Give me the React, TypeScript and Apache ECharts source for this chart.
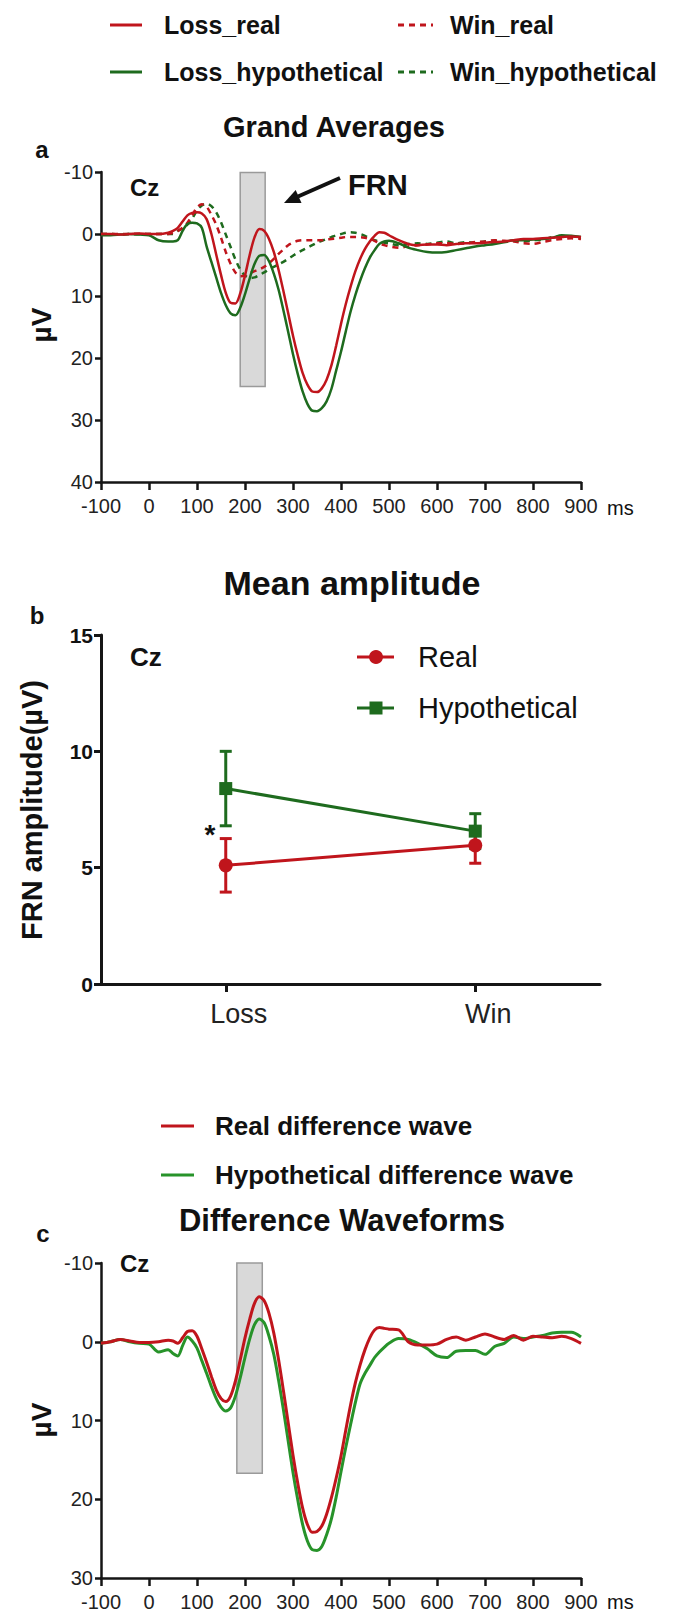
import React, { useEffect, useRef } from "react";
import * as echarts from "echarts";

// ---------- DATA ----------
// sample times (ms): 20 ms steps outside the main ERP window, 10 ms steps inside it
const timeMs = [
  -100, -80, -60, -40, -20, 0, 20, 40,
  50, 60, 70, 80, 90, 100, 110, 120, 130, 140,
  150, 160, 170, 180, 190, 200, 210, 220, 230, 240,
  250, 260, 270, 280, 290, 300, 310, 320, 330, 340,
  350, 360, 370, 380, 390, 400, 410, 420, 430, 440,
  450, 460, 470, 480, 490, 500,
  520, 540, 560, 580, 600, 620, 640, 660, 680, 700,
  720, 740, 760, 780, 800, 820, 840, 860, 880, 900,
];
const xRangeMs = [-100, 900];
const ampRangeA = [-10, 40];
const ampRangeC = [-10, 30];

const lossReal = [
  0, 0, 0.1, 0, -0.1, 0, 0, -0.2,
  -0.5, -1.0, -2.0, -3.0, -3.4, -3.5, -3.3, -2.4, 0.0, 3.3,
  6.6, 9.5, 11.1, 11.2, 9.6, 6.7, 3.3, 0.5, -0.8, -0.5,
  0.8, 2.9, 5.8, 9.2, 12.8, 16.4, 19.6, 22.4, 24.3, 25.4,
  25.5, 24.9, 23.5, 21.2, 18.0, 14.5, 11.3, 8.5, 6.0, 4.0,
  2.4, 1.2, 0.3, -0.3, -0.2, 0.2,
  1.0, 1.6, 1.8, 1.7, 1.7, 1.8, 1.6, 1.5, 1.5, 1.4,
  1.3, 1.2, 1.0, 0.8, 0.8, 0.7, 0.6, 0.5, 0.4, 0.5,
];
const lossHyp = [
  0.2, 0.2, 0.1, 0, 0.1, 0.2, 1.0, 1.2,
  1.2, 1.0, -0.5, -1.6, -1.8, -1.7, -1.0, 2.0, 4.5, 7.0,
  9.5, 11.5, 12.8, 13.1, 11.9, 9.7, 7.1, 4.8, 3.5, 3.4,
  4.4, 6.4, 9.0, 12.3, 15.8, 19.4, 22.6, 25.4, 27.4, 28.5,
  28.6, 28.1, 27.0, 25.0, 22.0, 19.0, 15.7, 12.5, 9.8, 7.5,
  5.5, 3.8, 2.6, 1.6, 1.2, 1.1,
  1.5, 2.2, 2.6, 2.9, 3.0, 2.9, 2.6, 2.3, 2.0, 1.8,
  1.6, 1.3, 1.0, 1.0, 0.9, 0.8, 0.6, 0.2, 0.3, 0.5,
];
const winReal = [
  0, 0, 0, 0, 0, 0, 0, 0,
  -0.2, -0.5, -1.0, -1.8, -3.0, -4.3, -4.8, -4.4, -3.1, -1.5,
  0.6, 2.9, 4.8, 6.2, 6.8, 6.7, 6.3, 6.0, 5.7, 5.3,
  4.7, 4.0, 3.2, 2.5, 1.8, 1.4, 1.1, 1.0, 1.0, 1.0,
  1.0, 1.0, 0.9, 0.8, 0.7, 0.6, 0.5, 0.5, 0.5, 0.5,
  0.6, 0.8, 1.1, 1.5, 1.8, 2.0,
  2.2, 2.0, 1.8, 1.7, 1.5, 1.5, 1.6, 1.5, 1.3, 1.2,
  1.0, 1.1, 1.2, 1.5, 1.6, 1.3, 1.0, 0.8, 0.7, 0.8,
];
const winHyp = [
  0, 0, 0.1, 0, 0, 0, 0, 0,
  0, -0.5, -0.9, -1.5, -2.5, -3.8, -4.6, -4.9, -4.5, -3.5,
  -1.9, 0.1, 2.1, 4.1, 5.7, 6.7, 7.1, 7.0, 6.6, 6.2,
  5.7, 5.3, 4.9, 4.5, 4.0, 3.5, 3.0, 2.6, 2.2, 1.8,
  1.4, 1.1, 0.8, 0.5, 0.2, 0.0, -0.2, -0.3, -0.2, 0.0,
  0.3, 0.7, 1.0, 1.2, 1.4, 1.5,
  1.8, 1.6, 1.5, 1.6, 1.4, 1.2, 1.5, 1.3, 1.4, 1.2,
  1.1, 1.3, 1.0, 1.2, 1.0, 0.9, 0.5, 0.4, 0.5, 0.6,
];
const diffReal = [
  0.2, 0.0, -0.3, -0.1, 0.1, 0.1, 0.0, -0.2,
  -0.1, 0.2, -0.5, -1.3, -1.4, -0.7, 0.9, 2.6, 4.4, 6.1,
  7.2, 7.6, 6.9, 5.0, 2.3, -0.5, -2.9, -4.9, -5.7, -5.2,
  -3.6, -1.1, 2.3, 6.2, 10.3, 14.4, 18.0, 21.1, 23.2, 24.2,
  24.1, 23.4, 21.9, 19.8, 17.3, 14.5, 11.2, 8.0, 5.2, 2.9,
  1.0, -0.5, -1.5, -1.8, -1.7, -1.6,
  -1.5, 0.0, 0.4, 0.4, 0.3, -0.3, -0.6, -0.2, -0.6, -1.0,
  -0.6, -0.3, -0.8, -0.2, -0.7, -0.6, -0.5, -0.7, -0.4, 0.2,
];
const diffHyp = [
  0.2, 0.0, -0.3, 0.0, 0.2, 0.3, 1.3, 1.0,
  1.5, 1.8, 0.5, -0.6, -0.1, 0.8, 2.4, 4.0, 5.7, 7.2,
  8.3, 8.8, 8.4, 6.9, 4.6, 2.0, -0.4, -2.2, -2.9, -2.4,
  -0.7, 1.6, 4.9, 8.6, 12.6, 16.6, 20.1, 23.2, 25.3, 26.4,
  26.5, 26.0, 24.5, 22.5, 19.7, 16.5, 13.4, 10.5, 7.7, 5.3,
  4.0, 3.0, 2.0, 1.3, 0.7, 0.2,
  -0.4, -0.3, 0.2, 0.9, 1.8, 2.0, 1.2, 1.1, 1.1, 1.6,
  0.6, 0.2, -0.6, -0.4, -0.6, -0.8, -1.1, -1.2, -1.2, -0.6,
];

const frnWindowA = [190, 242];
const frnRectAmpA = [-9.9, 24.6];
const frnWindowC = [183, 236];
const frnRectAmpC = [-10.5, 16.7];

const conditions = ["Loss", "Win"];
const realMean = [5.1, 5.96];
const realSem = [1.15, 0.77];
const hypMean = [8.4, 6.57];
const hypSem = [1.6, 0.75];
const ampRangeB = [0, 15];

const namesA = ["Loss_real", "Loss_hypothetical", "Win_real", "Win_hypothetical"];
const namesB = ["Real", "Hypothetical"];
const namesC = ["Real difference wave", "Hypothetical difference wave"];

// ---------- STYLE ----------
const FONT = "'Liberation Sans', Arial, Helvetica, sans-serif";
const RED = "#C0151C";
const GREEN = "#1E6B1E";
const GREEN_C = "#27932A";
const AX = "#151515";

function pairs(ys: number[]) {
  return timeMs.map((t, i) => [t, ys[i]]);
}

function txt(text: string, x: number, y: number, size: number, bold: boolean, align = "left", extra: any = {}) {
  return {
    type: "text",
    x,
    y,
    ...extra,
    style: {
      text,
      font: `${bold ? "bold " : ""}${size}px ${FONT}`,
      fill: "#111",
      textAlign: align,
      textVerticalAlign: "middle",
    },
  };
}
function hline(x1: number, x2: number, y: number, color: string, dash?: number[]) {
  return {
    type: "line",
    shape: { x1, y1: y, x2, y2: y },
    style: { stroke: color, lineWidth: 3, lineDash: dash || null },
  };
}

function waveXAxis(grid: number) {
  return {
    type: "value",
    gridIndex: grid,
    min: xRangeMs[0],
    max: xRangeMs[1],
    interval: 100,
    axisLine: { show: true, onZero: false, lineStyle: { color: AX, width: 2.5 } },
    axisTick: { show: true, length: 8, lineStyle: { color: AX, width: 2.5 } },
    axisLabel: { fontSize: 20, color: "#222", margin: 14, fontFamily: FONT, showMinLabel: true, showMaxLabel: true },
    splitLine: { show: false },
  };
}
function waveYAxis(grid: number, range: number[]) {
  return {
    type: "value",
    gridIndex: grid,
    min: range[0],
    max: range[1],
    interval: 10,
    inverse: true,
    axisLine: { show: true, onZero: false, lineStyle: { color: AX, width: 2.5 } },
    axisTick: { show: true, length: 6, lineStyle: { color: AX, width: 2.5 } },
    axisLabel: { fontSize: 20, color: "#222", margin: 8, fontFamily: FONT },
    splitLine: { show: false },
  };
}
function wave(name: string, ys: number[], color: string, grid: number, dashed = false, width = 2.5) {
  return {
    name,
    type: "line",
    xAxisIndex: grid,
    yAxisIndex: grid,
    data: pairs(ys),
    smooth: 0.3,
    showSymbol: false,
    z: 3,
    lineStyle: { color, width, type: dashed ? [6, 5] : "solid" },
  };
}
function rectSeries(grid: number, win: number[], amp: number[]) {
  return {
    type: "line",
    xAxisIndex: grid,
    yAxisIndex: grid,
    data: [],
    z: 1,
    markArea: {
      silent: true,
      itemStyle: { color: "#D9D9D9", borderColor: "#9A9A9A", borderWidth: 1.5 },
      data: [[{ coord: [win[0], amp[0]] }, { coord: [win[1], amp[1]] }]],
    },
  };
}
function errSeries(mean: number[], sem: number[], color: string) {
  return {
    type: "custom",
    xAxisIndex: 1,
    yAxisIndex: 1,
    z: 3,
    encode: { x: 0, y: [1, 2] },
    data: mean.map((m, i) => [i, m - sem[i], m + sem[i]]),
    renderItem: (params: any, api: any) => {
      const i = api.value(0);
      const lo = api.coord([i, api.value(1)]);
      const hi = api.coord([i, api.value(2)]);
      const h = 6;
      const st = { stroke: color, lineWidth: 3 };
      return {
        type: "group",
        children: [
          { type: "line", shape: { x1: lo[0], y1: lo[1], x2: hi[0], y2: hi[1] }, style: st },
          { type: "line", shape: { x1: hi[0] - h, y1: hi[1], x2: hi[0] + h, y2: hi[1] }, style: st },
          { type: "line", shape: { x1: lo[0] - h, y1: lo[1], x2: lo[0] + h, y2: lo[1] }, style: st },
        ],
      };
    },
  };
}

export default function App() {
  const ref = useRef<HTMLDivElement>(null);
  useEffect(() => {
    document.body.style.margin = "0";
    if (!ref.current) return;
    const chart = echarts.init(ref.current, undefined, { renderer: "svg" });

    const graphic: any[] = [
      // panel a legend
      hline(110, 142, 25, RED),
      txt(namesA[0], 164, 25, 25, true),
      hline(110, 142, 72, GREEN),
      txt(namesA[1], 164, 72, 25, true),
      hline(398, 433, 25, RED, [6, 5]),
      txt(namesA[2], 450, 25, 25, true),
      hline(398, 433, 72, GREEN, [6, 5]),
      txt(namesA[3], 450, 72, 25, true),
      txt("Grand Averages", 334, 127, 29, true, "center"),
      txt("a", 42, 149, 24, true, "center"),
      txt("Cz", 130, 187, 24, true),
      txt("FRN", 348, 185, 29, true),
      { type: "line", shape: { x1: 340, y1: 178, x2: 298, y2: 196.5 }, style: { stroke: "#111", lineWidth: 4 } },
      { type: "polygon", shape: { points: [[284, 203], [301.5, 203], [295.7, 190]] }, style: { fill: "#111" } },
      txt("µV", 41, 325, 28, true, "center", { rotation: Math.PI / 2 }),
      txt("ms", 607, 508, 20, false),
      // panel b
      txt("Mean amplitude", 352, 583, 34, true, "center"),
      txt("b", 37, 615, 24, true, "center"),
      txt("Cz", 130, 657, 26, true),
      txt("FRN amplitude(µV)", 32, 810, 29, true, "center", { rotation: Math.PI / 2 }),
      hline(357, 394, 657, RED),
      { type: "circle", shape: { cx: 376, cy: 657, r: 7 }, style: { fill: RED } },
      txt(namesB[0], 418, 657, 29, false),
      hline(357, 394, 708, GREEN),
      { type: "rect", shape: { x: 369.5, y: 701.5, width: 13, height: 13 }, style: { fill: GREEN } },
      txt(namesB[1], 418, 708, 29, false),
      txt("*", 210, 834, 28, true, "center"),
      // panel c
      hline(161, 194, 1126, RED),
      txt(namesC[0], 215, 1126, 26, true),
      hline(161, 194, 1175, GREEN_C),
      txt(namesC[1], 215, 1175, 26, true),
      txt("Difference Waveforms", 342, 1220, 31, true, "center"),
      txt("c", 43, 1233, 24, true, "center"),
      txt("Cz", 120, 1263, 24, true),
      txt("µV", 41, 1420, 28, true, "center", { rotation: Math.PI / 2 }),
      txt("ms", 607, 1602, 20, false),
    ];

    chart.setOption({
      animation: false,
      backgroundColor: "#ffffff",
      textStyle: { fontFamily: FONT },
      grid: [
        { left: 101, top: 172, width: 480, height: 310 },
        { left: 101, top: 635, width: 499, height: 349 },
        { left: 101, top: 1263, width: 480, height: 315 },
      ],
      xAxis: [
        waveXAxis(0),
        {
          type: "category",
          gridIndex: 1,
          data: conditions,
          boundaryGap: true,
          axisLine: { show: true, lineStyle: { color: AX, width: 3 } },
          axisTick: { show: true, alignWithLabel: true, length: 8, lineStyle: { color: AX, width: 3 } },
          axisLabel: { fontSize: 27, color: "#222", margin: 16, fontFamily: FONT, padding: [0, 0, 0, 26] },
          splitLine: { show: false },
        },
        waveXAxis(2),
      ],
      yAxis: [
        waveYAxis(0, ampRangeA),
        {
          type: "value",
          gridIndex: 1,
          min: ampRangeB[0],
          max: ampRangeB[1],
          interval: 5,
          axisLine: { show: true, lineStyle: { color: AX, width: 3 } },
          axisTick: { show: true, length: 7, lineStyle: { color: AX, width: 3 } },
          axisLabel: { fontSize: 21, fontWeight: "bold", color: "#111", margin: 8, fontFamily: FONT },
          splitLine: { show: false },
        },
        waveYAxis(2, ampRangeC),
      ],
      graphic,
      series: [
        rectSeries(0, frnWindowA, frnRectAmpA),
        wave(namesA[3], winHyp, GREEN, 0, true),
        wave(namesA[2], winReal, RED, 0, true),
        wave(namesA[1], lossHyp, GREEN, 0),
        wave(namesA[0], lossReal, RED, 0),
        errSeries(hypMean, hypSem, GREEN),
        {
          name: namesB[1],
          type: "line",
          xAxisIndex: 1,
          yAxisIndex: 1,
          data: hypMean,
          symbol: "rect",
          symbolSize: 13,
          z: 3,
          itemStyle: { color: GREEN },
          lineStyle: { color: GREEN, width: 3 },
        },
        errSeries(realMean, realSem, RED),
        {
          name: namesB[0],
          type: "line",
          xAxisIndex: 1,
          yAxisIndex: 1,
          data: realMean,
          symbol: "circle",
          symbolSize: 14,
          z: 4,
          itemStyle: { color: RED },
          lineStyle: { color: RED, width: 3 },
        },
        rectSeries(2, frnWindowC, frnRectAmpC),
        wave(namesC[1], diffHyp, GREEN_C, 2, false, 3),
        wave(namesC[0], diffReal, RED, 2, false, 3),
      ],
    });
    return () => chart.dispose();
  }, []);
  return <div ref={ref} style={{ width: 675, height: 1618 }} />;
}
